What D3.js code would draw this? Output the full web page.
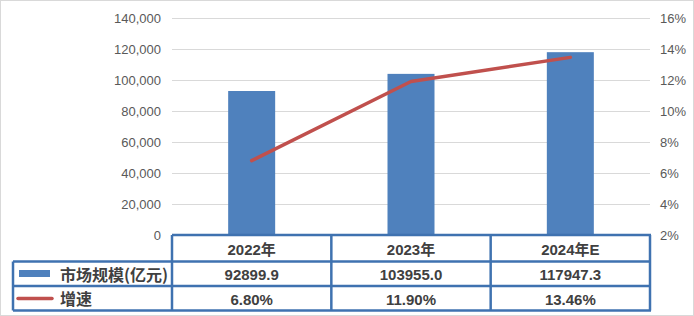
<!DOCTYPE html>
<html>
<head>
<meta charset="utf-8">
<script src="https://cdn.jsdelivr.net/npm/d3@7"></script>
<style>
  body { margin: 0; background: #fff; }
  svg { display: block; }
</style>
</head>
<body>
<script>
// data
const categories = ["2022年", "2023年", "2024年E"];
const marketSize = [92899.9, 103955.0, 117947.3];
const growth = [6.80, 11.90, 13.46];
const sizeLabels = ["92899.9", "103955.0", "117947.3"];
const growthLabels = ["6.80%", "11.90%", "13.46%"];
const leftTicks = [0, 20000, 40000, 60000, 80000, 100000, 120000, 140000];
const rightTicks = [2, 4, 6, 8, 10, 12, 14, 16];
const seriesNames = ["市场规模(亿元)", "增速"];

const W = 694, H = 316;
const plot = {left: 172, right: 650, top: 18, bottom: 235};
const blue = "#4f81bd", red = "#c0504d", border = "#3f72b0";
const cjk = "'Noto Sans CJK SC', 'Liberation Sans', sans-serif";

let svg = d3.select("body").append("svg")
  .attr("width", W).attr("height", H);

svg.append("rect")
  .attr("x", 0.5).attr("y", 0.5).attr("width", W - 1).attr("height", H - 1)
  .attr("fill", "#fff").attr("stroke", "#d9d9d9");

let x = d3.scaleBand().domain(categories).range([plot.left, plot.right]);
let y = d3.scaleLinear().domain([0, 140000]).range([plot.bottom, plot.top]);
let y2 = d3.scaleLinear().domain([2, 16]).range([plot.bottom, plot.top]);

// gridlines
svg.append("g").selectAll("line")
  .data(leftTicks.slice(1))
  .enter().append("line")
  .attr("x1", plot.left).attr("x2", plot.right)
  .attr("y1", d => Math.round(y(d)) + 0.5).attr("y2", d => Math.round(y(d)) + 0.5)
  .attr("stroke", "#d9d9d9").attr("stroke-width", 1);

// left axis labels
let fmt = d3.format(",");
svg.append("g").selectAll("text")
  .data(leftTicks)
  .enter().append("text")
  .attr("x", 161).attr("y", d => y(d))
  .attr("text-anchor", "end").attr("dominant-baseline", "central")
  .style("font", "13px 'Liberation Sans', sans-serif").attr("fill", "#595959")
  .text(d => fmt(d));

// right axis labels
svg.append("g").selectAll("text")
  .data(rightTicks)
  .enter().append("text")
  .attr("x", 660).attr("y", d => y2(d))
  .attr("dominant-baseline", "central")
  .style("font", "13px 'Liberation Sans', sans-serif").attr("fill", "#595959")
  .text(d => d + "%");

// bars
let barW = 47;
svg.append("g").selectAll("rect")
  .data(marketSize)
  .enter().append("rect")
  .attr("x", (d, i) => x(categories[i]) + x.bandwidth() / 2 - barW / 2)
  .attr("y", d => y(d))
  .attr("width", barW)
  .attr("height", d => y(0) - y(d))
  .attr("fill", blue);

// growth line
let line = d3.line()
  .x((d, i) => x(categories[i]) + x.bandwidth() / 2)
  .y(d => y2(d));
svg.append("path")
  .datum(growth)
  .attr("d", line)
  .attr("fill", "none").attr("stroke", red)
  .attr("stroke-width", 3.5).attr("stroke-linejoin", "round").attr("stroke-linecap", "round");

// data table
let rows = [235, 261.5, 286, 310.5];
let tbl = svg.append("g").attr("stroke", border).attr("stroke-width", 2.5).attr("fill", "none");
// horizontal lines
tbl.append("line").attr("x1", plot.left).attr("x2", plot.right + 1).attr("y1", rows[0]).attr("y2", rows[0]);
[1, 2, 3].forEach(r => {
  tbl.append("line").attr("x1", 13).attr("x2", plot.right + 1).attr("y1", rows[r]).attr("y2", rows[r]);
});
// vertical lines
tbl.append("line").attr("x1", 13).attr("x2", 13).attr("y1", rows[1]).attr("y2", rows[3]);
let colEdges = [plot.left].concat(categories.map(c => x(c) + x.bandwidth()));
colEdges.forEach((cx, i) => {
  tbl.append("line").attr("x1", cx).attr("x2", cx)
    .attr("y1", rows[0]).attr("y2", rows[3]);
});

let tableRows = [categories, sizeLabels, growthLabels];
tableRows.forEach((vals, r) => {
  svg.append("g").selectAll("text")
    .data(vals)
    .enter().append("text")
    .attr("x", (d, i) => x(categories[i]) + x.bandwidth() / 2)
    .attr("y", (rows[r] + rows[r + 1]) / 2 + 1)
    .attr("text-anchor", "middle").attr("dominant-baseline", "central")
    .style("font", "bold 15px 'Liberation Sans', " + cjk).attr("fill", "#404040")
    .text(d => d);
});

// legend keys
svg.append("rect")
  .attr("x", 19).attr("y", 270).attr("width", 31).attr("height", 7)
  .attr("fill", blue);
svg.append("line")
  .attr("x1", 18).attr("x2", 52).attr("y1", 298.5).attr("y2", 298.5)
  .attr("stroke", red).attr("stroke-width", 3.5).attr("stroke-linecap", "round");

svg.append("g").selectAll("text")
  .data(seriesNames)
  .enter().append("text")
  .attr("x", 60)
  .attr("y", (d, i) => (rows[i + 1] + rows[i + 2]) / 2)
  .attr("dominant-baseline", "central")
  .style("font", "bold 16px " + cjk).attr("fill", "#404040")
  .text(d => d);
</script>
</body>
</html>
